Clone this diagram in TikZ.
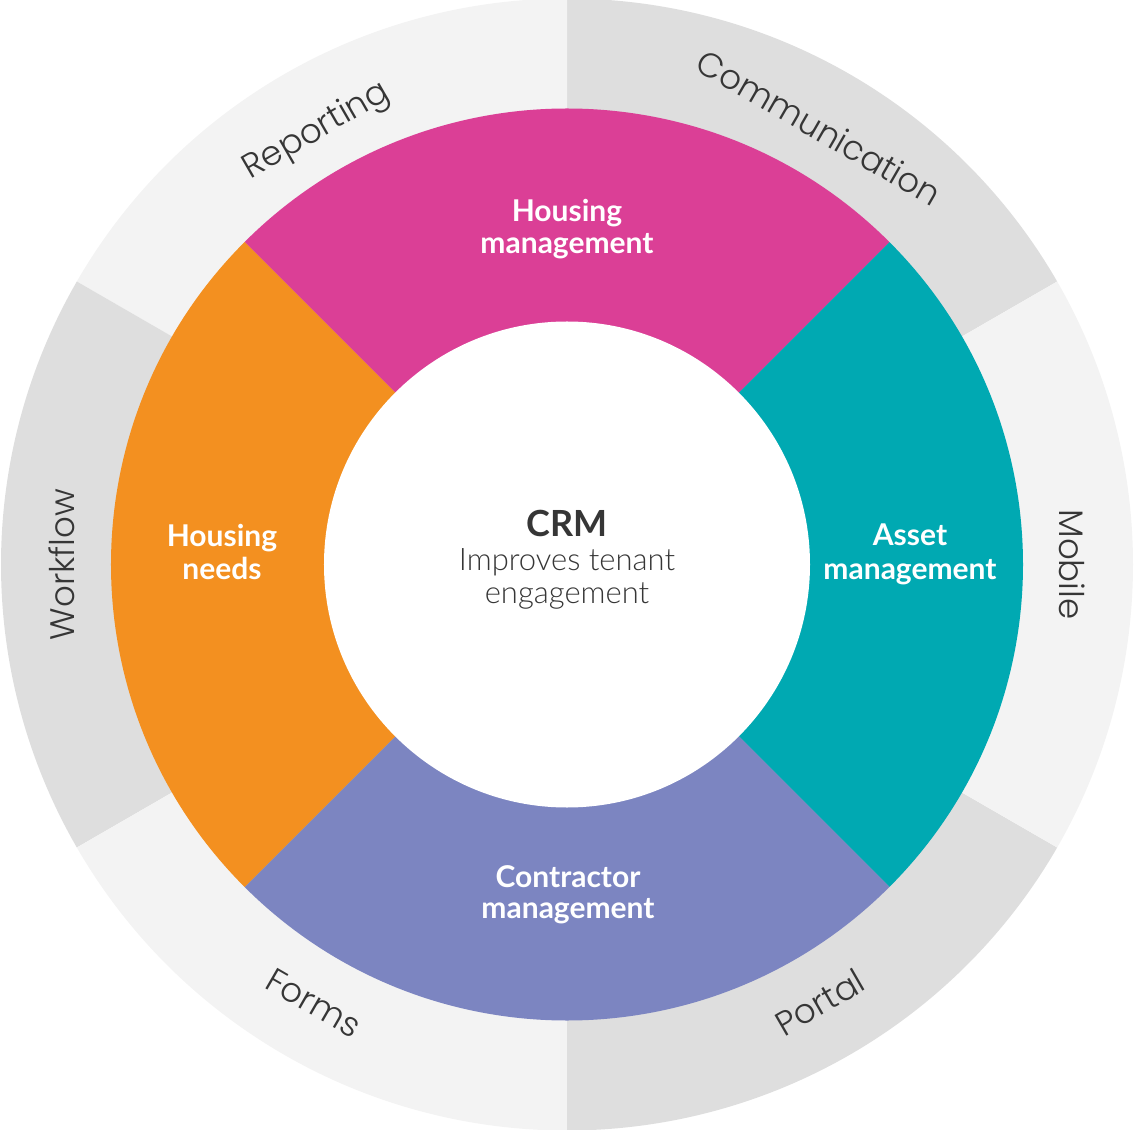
\documentclass[tikz,border=0pt]{standalone}
\usepackage{fontspec}
\setmainfont{Lato}
\newfontfamily\outerfont{Poppins Light}
\newfontfamily\lightfont{Lato Light}
\definecolor{gdark}{HTML}{DEDEDE}
\definecolor{glight}{HTML}{F3F3F3}
\definecolor{cpink}{HTML}{DB3F96}
\definecolor{cteal}{HTML}{00A9B2}
\definecolor{cpurple}{HTML}{7C85C1}
\definecolor{corange}{HTML}{F39020}
\definecolor{txt}{HTML}{363636}
\begin{document}
\begin{tikzpicture}[x=1pt,y=1pt,
  outerlbl/.style={text=txt, font=\outerfont\fontsize{34}{34}\selectfont, inner sep=0pt, anchor=base},
  inlbl/.style={text=white, font=\bfseries\fontsize{30}{30}\selectfont, inner sep=0pt, anchor=base},
  crmlbl/.style={text=txt, font=\bfseries\fontsize{36}{36}\selectfont, inner sep=0pt, anchor=base},
  sublbl/.style={text=txt, font=\lightfont\fontsize{31}{31}\selectfont, inner sep=0pt, anchor=base}]
\useasboundingbox (-567pt,-564.5pt) rectangle (567pt,564.5pt);
\def\Ro{566pt}\def\Rm{456pt}\def\Ri{243pt}
% outer ring
\foreach \a/\b/\c in {30/90/gdark, 90/150/glight, 150/210/gdark, 210/270/glight, 270/330/gdark, -30/30/glight}
  \fill[\c] (0,0) -- (\a:\Ro) arc[start angle=\a, end angle=\b, radius=\Ro] -- cycle;
% coloured ring
\foreach \a/\b/\c in {45/135/cpink, -45/45/cteal, 225/315/cpurple, 135/225/corange}
  \fill[\c] (0,0) -- (\a:\Rm) arc[start angle=\a, end angle=\b, radius=\Rm] -- cycle;
% centre
\fill[white] (0,0) circle[radius=\Ri];
% outer labels
\node[outerlbl, rotate=-30] (comm) at (60:492pt) {Communication};
\node[outerlbl, rotate=30] (rep) at (120:492pt) {Reporting};
\node[outerlbl, rotate=90] (wf) at (180:492pt) {Workflow};
\node[outerlbl, rotate=-90] (mob) at (0:492pt) {Mobile};
\node[outerlbl, rotate=30] (portal) at (-60:518pt) {Portal};
\node[outerlbl, rotate=-30] (forms) at (-120:518pt) {Forms};
% coloured labels
\node[inlbl] (hm1) at (0,342.5) {Housing};
\node[inlbl] (hm2) at (0,310.5) {management};
\node[inlbl] (am1) at (343,18.5) {Asset};
\node[inlbl] (am2) at (343,-15.5) {management};
\node[inlbl] (cm1) at (1,-322.5) {Contractor};
\node[inlbl] (cm2) at (1,-353.5) {management};
\node[inlbl] (hn1) at (-345,17.5) {Housing};
\node[inlbl] (hn2) at (-345,-15.5) {needs};
% centre labels
\node[crmlbl] (crm) at (0,27.5) {CRM};
\node[sublbl] (imp1) at (0,-5.5) {Improves tenant};
\node[sublbl] (imp2) at (0,-38.5) {engagement};
\end{tikzpicture}
\end{document}
